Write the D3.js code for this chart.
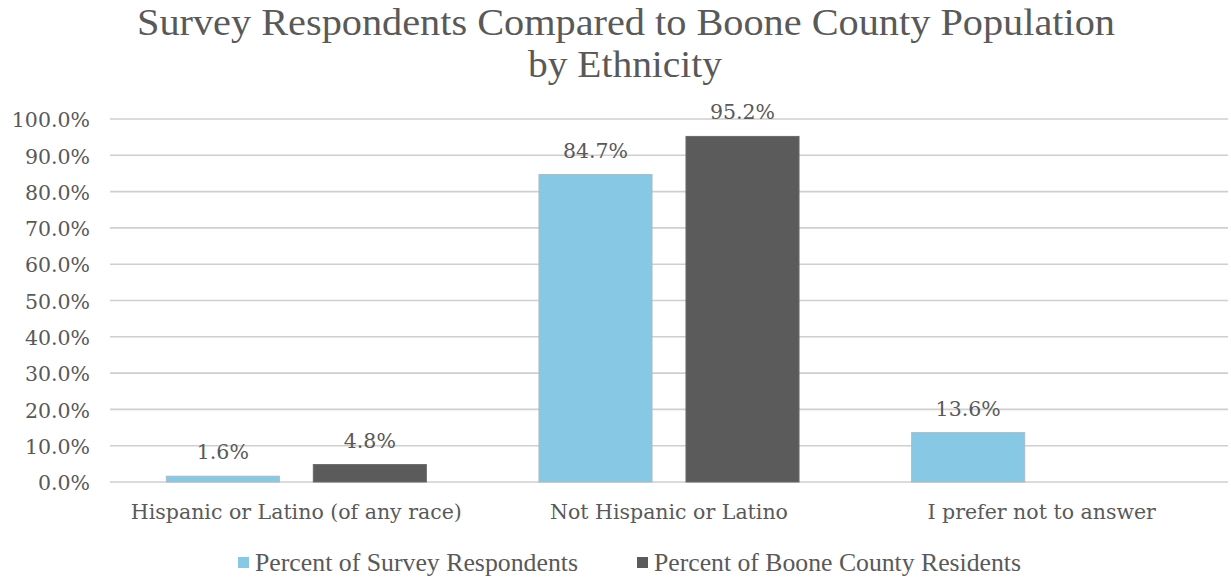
<!DOCTYPE html>
<html><head><meta charset="utf-8">
<script src="https://cdn.jsdelivr.net/npm/d3@7/dist/d3.min.js"></script>
<style>
html,body{margin:0;padding:0;background:#fff;}
svg{display:block;}
</style></head>
<body>
<svg id="chart" width="1231" height="577"></svg>
<script>
const categories = ["Hispanic or Latino (of any race)", "Not Hispanic or Latino", "I prefer not to answer"];
const seriesNames = ["Percent of Survey Respondents", "Percent of Boone County Residents"];
const respondents = [1.6, 84.7, 13.6];
const residents = [4.8, 95.2, null];
const yTicks = [0, 10, 20, 30, 40, 50, 60, 70, 80, 90, 100];
const titleLines = ["Survey Respondents Compared to Boone County Population", "by Ethnicity"];
const colors = ["#87c8e5", "#5b5b5b"];

const seriesValues = [respondents, residents];
const svg = d3.select("#chart");
const textColor = "#595959";

const plot = {left: 110, right: 1228, top: 119, bottom: 482};

const y = d3.scaleLinear().domain([0, 100]).range([plot.bottom, plot.top]);
const x0 = d3.scaleBand().domain(categories).range([plot.left, plot.right]).padding(0);
const x1 = d3.scaleBand().domain(seriesNames).range([0, x0.bandwidth()]).paddingInner(0.231).paddingOuter(0.383);

// gridlines
svg.append("g").selectAll("line").data(yTicks).join("line")
  .attr("x1", plot.left).attr("x2", plot.right)
  .attr("y1", d => y(d)).attr("y2", d => y(d))
  .attr("stroke", "#cfcfcf").attr("stroke-width", 1.6);

// y axis labels
const yAxis = d3.axisLeft(y).tickValues(yTicks).tickSize(0).tickPadding(0)
  .tickFormat(d => d.toFixed(1) + "%");
const yg = svg.append("g").attr("transform", `translate(${plot.left - 20},0)`).call(yAxis);
yg.select(".domain").remove();
yg.selectAll("text").attr("fill", textColor).attr("font-family", "DejaVu Serif")
  .attr("font-size", 20.5).attr("dy", "0.38em");

// bars
const groups = svg.append("g").selectAll("g").data(seriesNames).join("g");
groups.each(function(s, si) {
  const vals = seriesValues[si];
  const data = categories.map((c, i) => ({c, v: vals[i]})).filter(d => d.v != null);
  const g = d3.select(this);
  g.selectAll("rect").data(data).join("rect")
    .attr("x", d => x0(d.c) + x1(s))
    .attr("width", x1.bandwidth())
    .attr("y", d => y(d.v))
    .attr("height", d => y(0) - y(d.v))
    .attr("fill", colors[si])
    .attr("stroke", si === 0 ? "#a9bcc6" : "#6a6a6a").attr("stroke-width", 1);
  g.selectAll("text").data(data).join("text")
    .attr("x", d => x0(d.c) + x1(s) + x1.bandwidth() / 2)
    .attr("y", d => y(d.v) - 17)
    .attr("text-anchor", "middle")
    .attr("fill", textColor).attr("font-family", "DejaVu Serif").attr("font-size", 20.5)
    .text(d => d.v.toFixed(1) + "%");
});

// x axis labels
const xAxis = d3.axisBottom(x0).tickSize(0).tickPadding(0);
const xg = svg.append("g").attr("transform", `translate(0,${plot.bottom})`).call(xAxis);
xg.select(".domain").remove();
xg.selectAll("text").attr("fill", textColor).attr("font-family", "DejaVu Serif")
  .attr("font-size", 20.5).attr("dy", 0).attr("y", 37);

// title
const title = svg.append("g");
title.append("text").attr("x", 626).attr("y", 35).attr("text-anchor", "middle")
  .attr("font-family", "Liberation Serif").attr("font-size", 38).attr("fill", textColor)
  .attr("textLength", 978).attr("lengthAdjust", "spacingAndGlyphs")
  .text(titleLines[0]);
title.append("text").attr("x", 625).attr("y", 77).attr("text-anchor", "middle")
  .attr("font-family", "Liberation Serif").attr("font-size", 38).attr("fill", textColor)
  .attr("textLength", 194).attr("lengthAdjust", "spacingAndGlyphs")
  .text(titleLines[1]);

// legend
const legendX = [238, 637];
const legendLen = [323, 367];
const legend = svg.append("g").selectAll("g").data(seriesNames).join("g")
  .attr("transform", (d, i) => `translate(${legendX[i]},562)`);
legend.append("rect").attr("x", 0).attr("y", -5).attr("width", 11).attr("height", 11)
  .attr("fill", (d, i) => colors[i]);
legend.append("text").attr("x", 17).attr("y", 0).attr("dy", "0.36em")
  .attr("font-family", "Liberation Serif").attr("font-size", 25).attr("fill", textColor)
  .attr("textLength", (d, i) => legendLen[i]).attr("lengthAdjust", "spacingAndGlyphs")
  .text(d => d);
</script>
</body></html>
